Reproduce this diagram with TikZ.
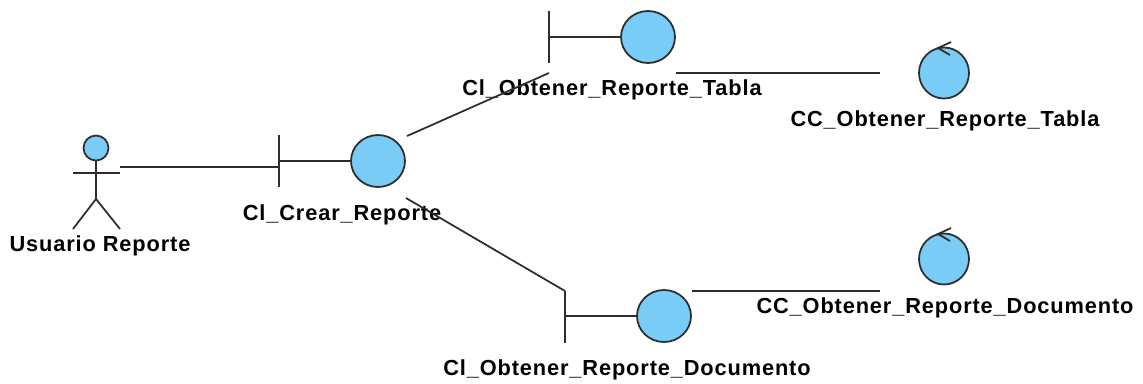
\documentclass[tikz,border=0pt]{standalone}
\usepackage{fontspec}
\setmainfont{Liberation Sans}
\newfontfamily\labelfont[LetterSpace=4]{Liberation Sans}
\usetikzlibrary{shapes.geometric}
\definecolor{umlblue}{RGB}{120,204,245}
\definecolor{umlline}{RGB}{45,45,45}
\tikzset{
    ball/.style={ellipse, draw=umlline, fill=umlblue, line width=1pt, inner sep=0pt, minimum width=54*0.02cm, minimum height=52*0.02cm},
    label/.style={font=\labelfont\bfseries\fontsize{12.4}{14}\selectfont, text=black, inner sep=0pt},
    wire/.style={draw=umlline, line width=1pt}
}
\begin{document}
\begin{tikzpicture}[x=0.02cm, y=-0.02cm]
    \useasboundingbox (0,0) rectangle (1143,383);

    % Actor
    \node[ball, minimum width=25*0.02cm, minimum height=25*0.02cm] (A) at (96,148) {};
    \coordinate (Ahip) at (96,199);
    \coordinate (Ahand) at (120,173);
    \coordinate (Aarm) at (73,173);
    \coordinate (Afoot1) at (73,229);
    \coordinate (Afoot2) at (120,229);
    \coordinate (Aout) at (120,167);
    \draw[wire] (A) -- (Ahip);
    \draw[wire] (Aarm) -- (Ahand);
    \draw[wire] (Afoot1) -- (Ahip) -- (Afoot2);
    \node[label] (Alabel) at (100,246) {Usuario Reporte};

    % Crear
    \node[ball] (B1) at (378,161) {};
    \coordinate (B1top) at (279,135);
    \coordinate (B1bot) at (279,187);
    \coordinate (B1mid) at (279,161);
    \coordinate (B1in) at (279,167);
    \coordinate (B1up) at (407,136);
    \coordinate (B1down) at (406,198);
    \draw[wire] (B1top) -- (B1bot);
    \draw[wire] (B1mid) -- (B1);
    \node[label] (B1label) at (342,215) {Cl\_Crear\_Reporte};

    % Tabla
    \node[ball] (B2) at (648,37) {};
    \coordinate (B2top) at (549,11);
    \coordinate (B2bot) at (549,63);
    \coordinate (B2mid) at (549,37);
    \coordinate (B2in) at (549,73);
    \coordinate (B2out) at (676,73);
    \draw[wire] (B2top) -- (B2bot);
    \draw[wire] (B2mid) -- (B2);
    \node[label] (B2label) at (612,90) {Cl\_Obtener\_Reporte\_Tabla};

    % Documento
    \node[ball] (B3) at (664,316) {};
    \coordinate (B3top) at (565,291);
    \coordinate (B3bot) at (565,343);
    \coordinate (B3mid) at (565,316);
    \coordinate (B3out) at (692,291);
    \draw[wire] (B3top) -- (B3bot);
    \draw[wire] (B3mid) -- (B3);
    \node[label] (B3label) at (627,370) {Cl\_Obtener\_Reporte\_Documento};

    % Controls
    \node[ball, minimum width=50*0.02cm, minimum height=51*0.02cm] (C1) at (944,73) {};
    \coordinate (C1tip) at (938,48);
    \coordinate (C1a) at (951,42);
    \coordinate (C1b) at (950,55);
    \coordinate (C1in) at (880,73);
    \draw[wire] (C1a) -- (C1tip) -- (C1b);
    \node[label] (C1label) at (945,121) {CC\_Obtener\_Reporte\_Tabla};

    \node[ball, minimum width=50*0.02cm, minimum height=51*0.02cm] (C2) at (944,259) {};
    \coordinate (C2tip) at (938,234);
    \coordinate (C2a) at (951,228);
    \coordinate (C2b) at (950,241);
    \coordinate (C2in) at (880,291);
    \draw[wire] (C2a) -- (C2tip) -- (C2b);
    \node[label] (C2label) at (945,308) {CC\_Obtener\_Reporte\_Documento};

    % Edges
    \draw[wire] (Aout) -- (B1in);
    \draw[wire] (B1up) -- (B2in);
    \draw[wire] (B1down) -- (B3top);
    \draw[wire] (B2out) -- (C1in);
    \draw[wire] (B3out) -- (C2in);
\end{tikzpicture}
\end{document}
